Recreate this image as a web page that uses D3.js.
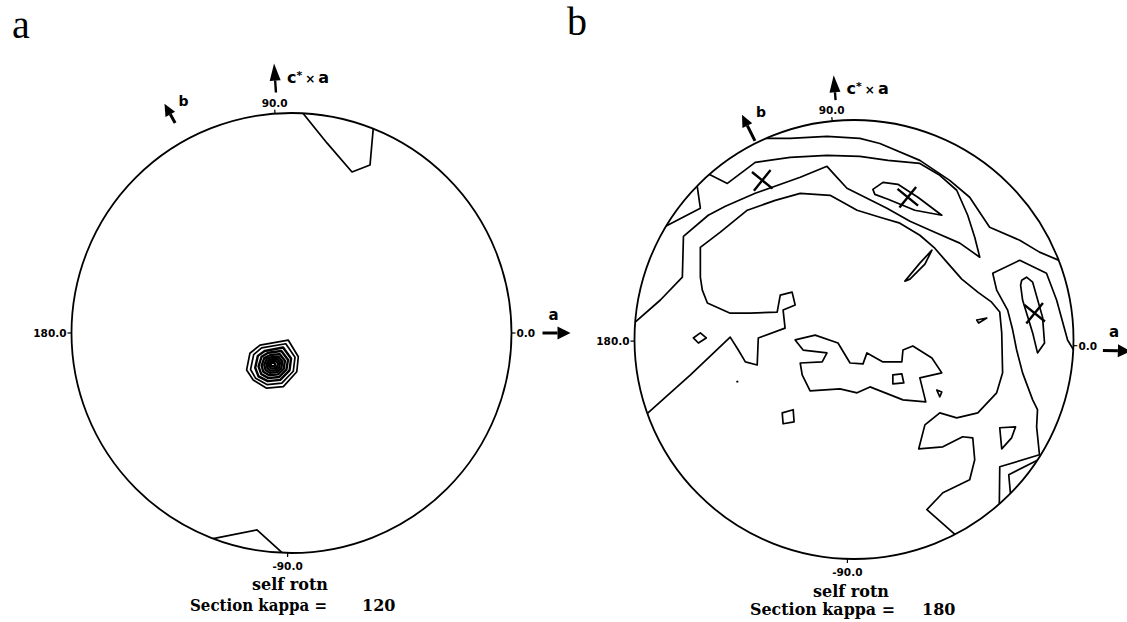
<!DOCTYPE html>
<html>
<head>
<meta charset="utf-8">
<script src="https://cdn.jsdelivr.net/npm/d3@7"></script>
<style>
  body { margin: 0; background: #fff; }
  svg { display: block; }
</style>
</head>
<body>
<svg id="chart" width="1127" height="622"></svg>
<script>
// ---------------------------------------------------------------------------
// Self-rotation function sections (stereographic projection).
// Contour traces are given in the projection plane, in % of the projection
// radius: x along a, y along c* x a.
// ---------------------------------------------------------------------------
const panelLetters = ["a", "b"];
const kappaValues = [120, 180];
const sectionTitle = "self rotn";
const azimuthLabels = ["0.0", "90.0", "180.0", "-90.0"];
const axisNames = ["a", "b", "c*", "a"];

// kappa = 120 section: two edge features and the origin peak
const openContoursA = [
  [[3.9, 101.5], [16.1, 86.4], [27.5, 73.2], [35.7, 76.4], [37.3, 94.6]],
  [[-36.2, -93.6], [-15.7, -89.5], [-3.0, -101]]
];
const closedContoursA = [
  [[-20.4, -16.8], [-18.9, -9.2], [-14.3, -5.5], [-1.5, -3.2], [3.1, -10.8], [2.4, -17.6], [-3.7, -24.4], [-11.3, -25.1], [-17.4, -21.4]],
  [[-18.6, -16.6], [-17.2, -9.8], [-13.6, -6.8], [-2.6, -4.9], [1.6, -11.0], [0.8, -17.4], [-4.4, -22.8], [-11.0, -23.5], [-16.3, -20.6]],
  [[-16.5, -15.8], [-15.3, -10.4], [-12.2, -8.2], [-3.8, -6.6], [-0.2, -11.6], [-0.9, -17.0], [-5.1, -21.3], [-10.8, -21.9], [-15.0, -19.7]],
  [[-15.0, -15.2], [-13.6, -10.8], [-10.6, -9.0], [-4.6, -8.2], [-1.6, -12.2], [-2.3, -16.6], [-5.6, -20.0], [-10.5, -20.5], [-13.8, -18.6]],
  [[-13.6, -14.8], [-12.4, -11.4], [-9.6, -10.0], [-5.4, -9.6], [-3.0, -12.6], [-3.5, -16.2], [-6.1, -18.8], [-10.2, -19.2], [-12.8, -17.6]],
  [[-12.4, -14.5], [-11.3, -11.8], [-8.8, -10.9], [-5.9, -10.8], [-4.2, -13.0], [-4.6, -15.8], [-6.6, -17.8], [-9.9, -18.1], [-11.8, -16.8]],
  [[-11.3, -14.3], [-10.4, -12.3], [-8.4, -11.8], [-6.4, -11.8], [-5.2, -13.4], [-5.6, -15.5], [-7.1, -16.9], [-9.6, -17.1], [-10.9, -16.1]],
  [[-10.4, -14.2], [-9.6, -12.9], [-8.2, -12.6], [-6.9, -12.8], [-6.1, -13.8], [-6.5, -15.2], [-7.6, -16.0], [-9.3, -16.1], [-10.1, -15.4]],
  [[-9.5, -14.1], [-8.9, -13.5], [-8.0, -13.4], [-7.4, -14.0], [-7.6, -14.9], [-8.4, -15.2], [-9.2, -15.0]]
];
const peaksA = [];

// kappa = 180 section
const openContoursB = [
  [[-45.0, 91.6], [-29.1, 91.6], [-12.3, 92.5], [2.7, 91.6], [11.8, 89.3], [30.0, 81.6], [43.6, 72.5], [52.7, 64.8], [61.8, 51.1], [75.5, 45.2], [84.5, 39.8], [94.5, 35.6]],
  [[-66.5, 75.5], [-57.7, 71.1], [-45.0, 80.7], [-29.1, 83.0], [-12.3, 83.9], [2.7, 83.4], [15.5, 81.6], [30.0, 80.2], [39.1, 74.8], [46.8, 68.0], [51.8, 56.6], [55.0, 46.6], [57.3, 37.5],
   [48.2, 43.9], [36.8, 48.9], [25.5, 53.9], [15.0, 59.8], [5.0, 64.8], [-3.2, 68.9], [-8.6, 74.8], [-12.3, 78.9], [-24.5, 73.9], [-45.0, 66.6], [-58.6, 60.7], [-66.4, 56.6], [-77.7, 47.0], [-78.2, 28.4], [-88.2, 18.0], [-101, 6.8]],
  [[-86.9, 51.0], [-70.0, 59.8], [-71.5, 70.3]],
  [[-94.5, -34.0], [-74.5, -16.1], [-56.4, 1.1], [-52.7, -4.8], [-49.5, -10.2], [-44.1, -11.6], [-43.6, 0.7], [-31.4, 5.2], [-32.3, 13.4], [-26.8, 15.7], [-28.2, 21.6], [-33.6, 20.2], [-35.0, 12.5], [-47.3, 12.0], [-56.4, 12.0], [-66.8, 16.6], [-69.1, 22.5], [-70.0, 28.4], [-70.0, 42.0], [-60.9, 48.9], [-48.6, 58.9], [-35.9, 63.4], [-24.5, 66.6], [-10.9, 65.7], [-4.1, 62.0], [1.4, 58.9], [11.8, 55.7], [20.9, 53.0], [30.0, 47.5], [36.8, 41.6], [42.7, 34.8], [49.1, 27.5], [56.4, 21.6], [62.7, 17.0], [66.4, 12.5], [67.3, 3.0], [67.7, -15.2], [65.0, -24.3], [56.4, -33.4], [46.8, -35.7], [39.1, -33.4], [32.3, -38.9], [29.5, -49.8], [40.5, -48.9], [49.5, -44.3], [54.1, -44.8], [55.0, -54.8], [52.7, -63.9], [40.5, -69.8], [33.2, -77.5], [46.5, -89.2]],
  [[66.2, -76.0], [66.4, -58.0], [84.5, -52.5], [83.2, -39.8], [83.6, -32.0], [81.4, -27.5], [76.8, -15.2], [74.1, -4.8], [72.3, 4.3], [70.0, 13.4], [65.0, 22.5], [63.2, 30.2], [75.5, 36.1], [87.7, 30.2], [92.3, 18.0], [97.3, -0.2], [101.5, -7.2]],
  [[71.4, -71.6], [70.5, -61.6], [84.0, -54.8]],
  [[-53.6, -19.3], [-52.7, -19.1]]
];
const closedContoursB = [
  [[8.6, 68.4], [13.2, 71.6], [20.0, 70.7], [29.1, 64.8], [40.0, 56.6], [27.7, 58.9], [15.5, 63.9], [9.5, 66.1]],
  [[35.5, 40.7], [30.0, 34.8], [23.2, 26.6], [25.5, 27.5], [32.3, 34.3]],
  [[76.4, 27.0], [78.6, 28.4], [81.4, 26.1], [85.9, 10.2], [86.8, -1.6], [83.6, -6.1], [81.4, 3.0], [76.8, 18.0], [75.9, 24.8]],
  [[55.9, 8.9], [60.5, 9.8], [56.8, 7.5]],
  [[-73.2, 0.7], [-70.0, 3.0], [-67.3, 0.7], [-70.9, -1.6]],
  [[-32.7, -33.4], [-27.7, -32.0], [-27.3, -37.5], [-32.3, -38.4]],
  [[-26.8, -0.2], [-17.7, 2.0], [-7.3, -1.6], [-1.8, -10.7], [4.1, -11.1], [5.9, -6.1], [13.2, -10.2], [21.8, -10.2], [22.3, -4.8], [26.8, -3.0], [35.5, -8.4], [40.0, -15.2], [30.0, -17.5], [32.7, -28.4], [22.3, -27.5], [7.3, -21.6], [1.4, -24.3], [-6.4, -22.5], [-20.0, -23.4], [-23.6, -16.1], [-24.5, -10.7], [-14.5, -10.2], [-12.3, -6.1], [-23.2, -4.8]],
  [[17.7, -16.1], [21.8, -15.7], [22.7, -19.8], [17.7, -20.2]],
  [[37.7, -23.0], [40.0, -23.9], [39.1, -26.1]],
  [[66.4, -40.2], [73.6, -39.8], [71.8, -44.8], [67.3, -49.8]]
];
const peaksB = [[-41.8, 72.5], [24.5, 64.8], [82.3, 12.0]];

const openContours = [openContoursA, openContoursB];
const closedContours = [closedContoursA, closedContoursB];
const peaks = [peaksA, peaksB];

// ---------------------------------------------------------------------------
// Page layout (pixels) for the two projections
// ---------------------------------------------------------------------------
const layout = [
  { cx: 291.5, cy: 333, r: 220, letter: [12, 38],
    labelTilt: [0, 4.3, 0, -1], cAngle: 93.7, bAngle: 119, bR: [240, 262], cArrowR: [241, 270], aArrowR: [251, 279], aArrowDy: 0,
    rotnX: 290, rotnY: 590, kappaX: 190, kappaY: 611, kappaW: 137, kappaValX: 362 },
  { cx: 854, cy: 339.5, r: 219.5, letter: [567, 35],
    labelTilt: [-1.6, 5.7, 0.4, -1.7], cAngle: 94.4, bAngle: 116.5, bR: [222, 251], cArrowR: [240, 265], aArrowR: [249, 277], aArrowDy: 4,
    rotnX: 851, rotnY: 597, kappaX: 750, kappaY: 615, kappaW: 145, kappaValX: 922 }
];

const svg = d3.select("#chart");
const defs = svg.append("defs");
const rad = Math.PI / 180;

function arrow(g, p0, p1, headLen, headW, stem) {
  const dx = p1[0] - p0[0], dy = p1[1] - p0[1];
  const len = Math.hypot(dx, dy), ux = dx / len, uy = dy / len;
  const bx = p1[0] - ux * headLen, by = p1[1] - uy * headLen;
  g.append("line")
    .attr("x1", p0[0]).attr("y1", p0[1]).attr("x2", bx).attr("y2", by)
    .attr("stroke", "#000").attr("stroke-width", stem);
  g.append("path")
    .attr("d", d3.line()([p1, [bx - uy * headW / 2, by + ux * headW / 2], [bx + uy * headW / 2, by - ux * headW / 2]]) + "Z")
    .attr("fill", "#000");
}

layout.forEach((L, i) => {
  const g = svg.append("g");
  const x = d3.scaleLinear().domain([-100, 100]).range([L.cx - L.r, L.cx + L.r]);
  const y = d3.scaleLinear().domain([-100, 100]).range([L.cy + L.r, L.cy - L.r]);
  const polar = (deg, R) => [x(0) + R * Math.cos(deg * rad), y(0) - R * Math.sin(deg * rad)];
  const R = x(100) - x(0);

  // panel letter
  g.append("text").attr("x", L.letter[0]).attr("y", L.letter[1])
    .attr("font-family", "Liberation Serif, Times New Roman, serif")
    .attr("font-size", 40).text(panelLetters[i]);

  // projection boundary
  defs.append("clipPath").attr("id", "disk" + i)
    .append("circle").attr("cx", x(0)).attr("cy", y(0)).attr("r", R);
  g.append("circle").attr("cx", x(0)).attr("cy", y(0)).attr("r", R)
    .attr("fill", "none").attr("stroke", "#000").attr("stroke-width", 1.8);

  // contours
  const cg = g.append("g").attr("clip-path", `url(#disk${i})`)
    .attr("fill", "none").attr("stroke", "#000").attr("stroke-width", 1.7)
    .attr("stroke-linejoin", "round");
  const openLine = d3.line().x(d => x(d[0])).y(d => y(d[1]));
  const closedLine = d3.line().x(d => x(d[0])).y(d => y(d[1])).curve(d3.curveLinearClosed);
  cg.selectAll("path.open").data(openContours[i]).join("path").attr("class", "open").attr("d", openLine);
  cg.selectAll("path.closed").data(closedContours[i]).join("path").attr("class", "closed")
    .attr("d", closedLine)
    // the tightly packed peak contours print heavier
    .attr("stroke-width", (d, k) => (i === 0 && k >= 2) ? 2.4 : 1.7);

  // peak markers
  g.selectAll("path.peak").data(peaks[i]).join("path").attr("class", "peak")
    .attr("transform", d => `translate(${x(d[0])},${y(d[1])}) rotate(-6)`)
    .attr("d", d3.symbol(d3.symbolX, 230)())
    .attr("fill", "none").attr("stroke", "#000").attr("stroke-width", 2.4);

  // azimuth labels and ticks
  const base = [0, 90, 180, -90];
  base.forEach((a0, k) => {
    const a = a0 + L.labelTilt[k];
    const t0 = polar(a, R), t1 = polar(a, R + 4);
    g.append("line").attr("x1", t0[0]).attr("y1", t0[1]).attr("x2", t1[0]).attr("y2", t1[1])
      .attr("stroke", "#000").attr("stroke-width", 1.2);
    const p = polar(a, R + 5);
    const t = g.append("text").attr("font-family", "DejaVu Sans, sans-serif")
      .attr("font-weight", "bold").attr("font-size", 10.5).text(azimuthLabels[k]);
    if (a0 === 0) t.attr("x", p[0]).attr("y", p[1] + 4).attr("text-anchor", "start");
    else if (a0 === 180) t.attr("x", p[0]).attr("y", p[1] + 4).attr("text-anchor", "end");
    else if (a0 === 90) t.attr("x", p[0]).attr("y", p[1] - 2).attr("text-anchor", "middle");
    else t.attr("x", p[0]).attr("y", p[1] + 12).attr("text-anchor", "middle");
  });

  // crystal axis arrows
  const c0 = polar(L.cAngle, L.cArrowR[0]), c1 = polar(L.cAngle, L.cArrowR[1]);
  arrow(g, c0, c1, 17, 11, 2.4);
  const ct = g.append("text").attr("x", c0[0] + 11).attr("y", c1[1] + 19)
    .attr("font-family", "DejaVu Sans, sans-serif").attr("font-weight", "bold").attr("font-size", 16);
  ct.append("tspan").text("c");
  ct.append("tspan").attr("font-size", 11).attr("dy", -4).text("*");
  ct.append("tspan").attr("font-size", 12).attr("dy", 4).attr("dx", 3).text("\u00d7");
  ct.append("tspan").attr("dx", 3).text(axisNames[3]);

  const b0 = polar(L.bAngle, L.bR[0]), b1 = polar(L.bAngle, L.bR[1]);
  arrow(g, b0, b1, 12, 11, 3);
  g.append("text").attr("x", b1[0] + 14).attr("y", b1[1] + 2)
    .attr("font-family", "DejaVu Sans, sans-serif").attr("font-weight", "bold").attr("font-size", 14)
    .text(axisNames[1]);

  const a0p = polar(L.labelTilt[0], L.aArrowR[0]), a1p = polar(L.labelTilt[0], L.aArrowR[1]);
  a0p[1] += L.aArrowDy; a1p[1] += L.aArrowDy;
  arrow(g, a0p, a1p, 13, 13, 3);
  g.append("text").attr("x", a0p[0] + 6).attr("y", a0p[1] - 13)
    .attr("font-family", "DejaVu Sans, sans-serif").attr("font-weight", "bold").attr("font-size", 15)
    .text(axisNames[0]);

  // section captions
  const cap = { "font-family": "DejaVu Serif, serif", "font-weight": "bold", "font-size": 16 };
  const tr = g.append("text").attr("x", L.rotnX).attr("y", L.rotnY).attr("text-anchor", "middle").text(sectionTitle);
  const tk = g.append("text").attr("x", L.kappaX).attr("y", L.kappaY)
    .attr("textLength", L.kappaW).attr("lengthAdjust", "spacingAndGlyphs").text("Section kappa =");
  const tv = g.append("text").attr("x", L.kappaValX).attr("y", L.kappaY).text(kappaValues[i]);
  [tr, tk, tv].forEach(t => Object.entries(cap).forEach(([k, v]) => t.attr(k, v)));
});
</script>
</body>
</html>
